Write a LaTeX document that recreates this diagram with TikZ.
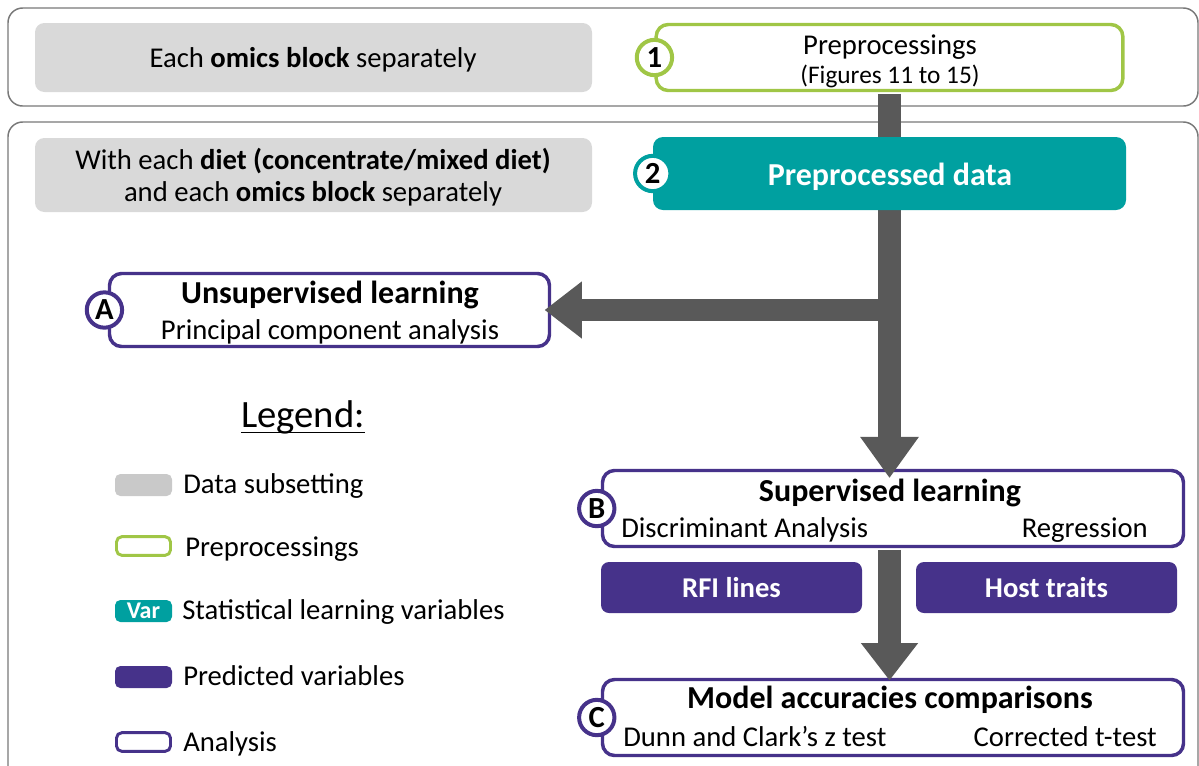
\documentclass[tikz,border=0pt]{standalone}
\usepackage{fontspec}
\setmainfont{Carlito}
\usetikzlibrary{arrows.meta}
\definecolor{teal1}{RGB}{0,160,160}
\definecolor{green1}{RGB}{160,198,70}
\definecolor{purple1}{RGB}{70,50,138}
\definecolor{arrowgray}{RGB}{89,89,89}
\definecolor{boxgray}{RGB}{217,217,217}
\definecolor{swgray}{RGB}{201,201,201}
\definecolor{framegray}{RGB}{120,120,120}
\begin{document}
\begin{tikzpicture}[x=0.75pt,y=-0.75pt,
 outerframe/.style={draw=framegray,line width=1.1pt,rounded corners=11pt},
 subset/.style={fill=boxgray,draw=none,rounded corners=7pt,inner sep=0},
 prep/.style={draw=green1,line width=2.6pt,fill=white,rounded corners=9pt,inner sep=0},
 analysis/.style={draw=purple1,line width=2.6pt,fill=white,rounded corners=9pt,inner sep=0},
 statvar/.style={fill=teal1,rounded corners=7.5pt,inner sep=0},
 predvar/.style={fill=purple1,rounded corners=6pt,inner sep=0},
 badge/.style={circle,fill=white,line width=3pt,minimum size=26.5pt,inner sep=0,font=\fontsize{23}{23}\selectfont\bfseries},
 txt/.style={inner sep=0,font=\fontsize{21.5}{26}\selectfont},
 hd/.style={inner sep=0,font=\fontsize{24}{29}\selectfont\bfseries},
 whitelbl/.style={inner sep=0,text=white,font=\fontsize{21.5}{26}\selectfont\bfseries},
 flow/.style={draw=arrowgray,line width=17pt,-{Triangle[length=31pt,width=42pt]}},
 flowshort/.style={draw=arrowgray,line width=17pt,-{Triangle[length=28pt,width=41pt]}},
]
\useasboundingbox (0,0) rectangle (1199,765);
% frames
\draw[outerframe] (8,8) rectangle (1198,106);
\draw[outerframe] (8,122) rectangle (1198,820);

% boxes
\node[subset,minimum width=417.75pt,minimum height=51.75pt] (sub1) at (313.5,57.5) {};
\node[prep,minimum width=350pt,minimum height=49.5pt] (prepbox) at (889.5,57.5) {};
\node[subset,minimum width=417.75pt,minimum height=55.5pt] (sub2) at (313.5,175) {};
\node[analysis,minimum width=330pt,minimum height=54.75pt] (boxA) at (329.5,310) {};
\node[analysis,minimum width=435.75pt,minimum height=57pt] (boxB) at (893,508.5) {};
\node[analysis,minimum width=435.75pt,minimum height=57pt] (boxC) at (893,717.5) {};
\node[predvar,minimum width=195.75pt,minimum height=38.25pt] (rfi) at (731.5,587.5) {};
\node[predvar,minimum width=195.75pt,minimum height=38.25pt] (host) at (1046.5,587.5) {};

% legend swatches
\node[subset,fill=swgray,rounded corners=4pt,minimum width=42.75pt,minimum height=16.5pt] (lg1) at (143.5,485) {};
\node[prep,rounded corners=4pt,line width=2.2pt,minimum width=40.5pt,minimum height=14pt] (lg2) at (143.5,546) {};
\node[statvar,rounded corners=4pt,minimum width=42.75pt,minimum height=16.5pt,text=white,font=\fontsize{18}{18}\selectfont\bfseries] (lg3) at (143.5,611) {Var};
\node[predvar,rounded corners=4pt,minimum width=42.75pt,minimum height=16.5pt] (lg4) at (143.5,677) {};
\node[analysis,rounded corners=4pt,line width=2.2pt,minimum width=40.5pt,minimum height=14pt] (lg5) at (143.5,742) {};

% arrows
\coordinate (top) at ([yshift=-1.3pt]prepbox.south);
\coordinate (split) at (prepbox.south |- boxA.east);
\coordinate (bstart) at ([yshift=-1.3pt]prepbox.south |- boxB.south);
\draw[flow] (top) -- ([yshift=-7pt]prepbox.south |- boxB.north);
\draw[flowshort] (split) -- ([xshift=-5pt]boxA.east);
\draw[flowshort] (bstart) -- ([yshift=-2pt]prepbox.south |- boxC.north);

% teal data box over the shaft
\node[statvar,minimum width=354.75pt,minimum height=54.75pt] (data) at (889.5,173.5) {};

% badges
\node[badge,draw=green1] (b1) at (prepbox.west) {1};
\node[badge,draw=teal1] (b2) at (data.west) {2};
\node[badge,draw=purple1] (bA) at ([xshift=-2.5pt]boxA.west) {A};
\node[badge,draw=purple1] (bB) at ([xshift=-3pt]boxB.west) {B};
\node[badge,draw=purple1] (bC) at ([xshift=-3pt]boxC.west) {C};

% texts
\node[txt,anchor=base] (t1) at (313,67) {Each \textbf{omics block} separately};
\node[txt,anchor=base] (t2a) at (890,54) {Preprocessings};
\node[inner sep=0,anchor=base,font=\fontsize{19}{19}\selectfont] (t2b) at (890,83) {(Figures 11 to 15)};
\node[txt,anchor=base] (t3a) at (313,169) {With each \textbf{diet (concentrate/mixed diet)}};
\node[txt,anchor=base] (t3b) at (313,201) {and each \textbf{omics block} separately};
\node[hd,anchor=base,text=white] (t4) at (890,185.5) {Preprocessed data};
\node[hd,anchor=base] (tAa) at (330,303) {Unsupervised learning};
\node[txt,anchor=base] (tAb) at (330,339) {Principal component analysis};
\node[hd,anchor=base] (tBa) at (890,501) {Supervised learning};
\node[txt,anchor=base west] (tBb) at (621,537) {Discriminant Analysis};
\node[txt,anchor=base east] (tBc) at (1148,537) {Regression};
\node[whitelbl,anchor=base] (trfi) at (731.5,597) {RFI lines};
\node[whitelbl,anchor=base] (thost) at (1046.5,597) {Host traits};
\node[hd,anchor=base] (tCa) at (890,708) {Model accuracies comparisons};
\node[txt,anchor=base west] (tCb) at (623,746) {Dunn and Clark’s z test};
\node[txt,anchor=base east] (tCc) at (1157,746) {Corrected t-test};

% legend
\node[inner sep=0,anchor=base,font=\fontsize{29}{29}\selectfont] (legend) at (303,427) {Legend:};
\draw[line width=1.2pt] ([yshift=-4pt]legend.base west) -- ([yshift=-4pt]legend.base east);
\node[txt,anchor=base west] (l1) at (183,493) {Data subsetting};
\node[txt,anchor=base west] (l2) at (185,556) {Preprocessings};
\node[txt,anchor=base west] (l3) at (182,619) {Statistical learning variables};
\node[txt,anchor=base west] (l4) at (183,685) {Predicted variables};
\node[txt,anchor=base west] (l5) at (183,751) {Analysis};
\end{tikzpicture}
\end{document}
